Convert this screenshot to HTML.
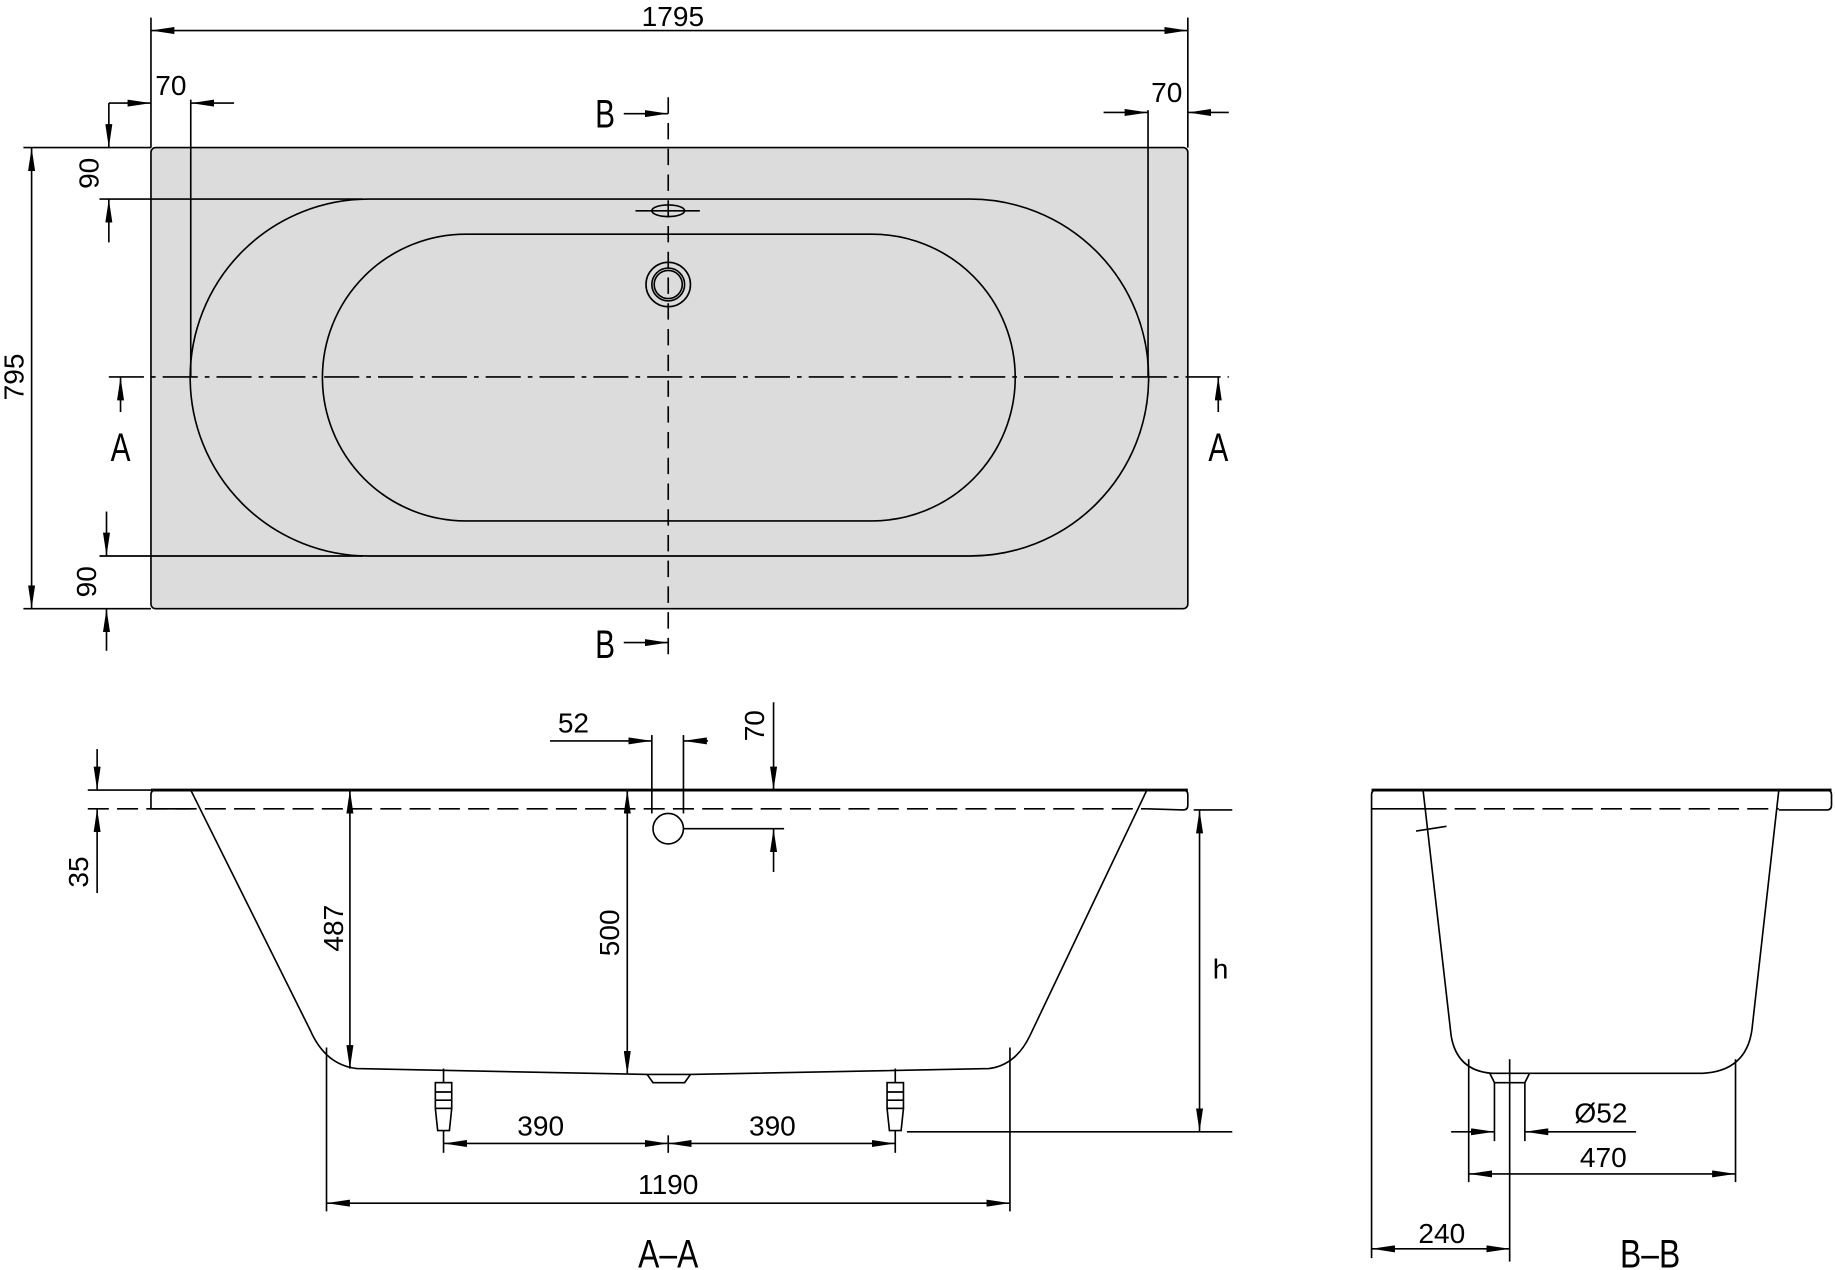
<!DOCTYPE html>
<html><head><style>html,body{margin:0;padding:0;background:#fff}svg{display:block}
text{font-family:"Liberation Sans",sans-serif;font-size:24px;fill:#000;text-anchor:middle}
.big{font-size:34px}</style></head>
<body>
<svg width="1835" height="1270" viewBox="0 0 1568 1085" xmlns="http://www.w3.org/2000/svg">
<defs>
<marker id="a" viewBox="0 0 20 6" refX="20" refY="3" markerWidth="20" markerHeight="6" markerUnits="userSpaceOnUse" orient="auto-start-reverse"><path d="M0,0L20,3L0,6z" fill="#000"/></marker>
</defs>
<g fill="none" stroke="#000" stroke-width="1.4">
<rect x="129" y="126" width="886" height="394" rx="4" fill="#dcdcdc"/>
<path d="M315,170H829A152.5,152.5 0 0 1 829,475H315A152.5,152.5 0 0 1 315,170Z"/>
<path d="M398,200H745A122.5,122.5 0 0 1 745,445H398A122.5,122.5 0 0 1 398,200Z"/>
<line x1="163" y1="85" x2="163" y2="322"/>
<line x1="981" y1="94" x2="981" y2="322"/>
<line x1="93" y1="322" x2="1050" y2="322" stroke-dasharray="30,6,4,6"/>
<line x1="571" y1="83" x2="571" y2="560" stroke-dasharray="14,8"/>
<ellipse cx="571" cy="180" rx="14" ry="5"/><line x1="543" y1="180" x2="598" y2="180"/>
<circle cx="571" cy="243" r="19"/><circle cx="571" cy="243" r="14"/><circle cx="571" cy="243" r="12"/>
<line x1="129" y1="15" x2="129" y2="126"/><line x1="1015" y1="15" x2="1015" y2="126"/>
<line x1="129" y1="26" x2="1015" y2="26" marker-start="url(#a)" marker-end="url(#a)"/>
<line x1="93" y1="88" x2="129" y2="88" marker-end="url(#a)"/>
<line x1="200" y1="88" x2="163" y2="88" marker-end="url(#a)"/>
<line x1="93" y1="88" x2="93" y2="126" marker-end="url(#a)"/>
<line x1="93" y1="207" x2="93" y2="170" marker-end="url(#a)"/>
<line x1="20" y1="126" x2="129" y2="126"/><line x1="85" y1="170" x2="310" y2="170"/>
<line x1="27" y1="126" x2="27" y2="520" marker-start="url(#a)" marker-end="url(#a)"/>
<line x1="20" y1="520" x2="129" y2="520"/><line x1="85" y1="475" x2="310" y2="475"/>
<line x1="91" y1="437" x2="91" y2="475" marker-end="url(#a)"/>
<line x1="91" y1="556" x2="91" y2="520" marker-end="url(#a)"/>
<line x1="943" y1="96" x2="981" y2="96" marker-end="url(#a)"/>
<line x1="1050" y1="96" x2="1015" y2="96" marker-end="url(#a)"/>
<line x1="103" y1="352" x2="103" y2="322" marker-end="url(#a)"/>
<line x1="1041" y1="352" x2="1041" y2="322" marker-end="url(#a)"/>
<line x1="533" y1="97" x2="571" y2="97" marker-end="url(#a)"/>
<line x1="533" y1="549" x2="571" y2="549" marker-end="url(#a)"/>

<line x1="129" y1="675" x2="1015" y2="675" stroke-width="2.5"/>
<path d="M163,675H133Q129,675 129,679V691H163"/>
<path d="M980,675H1011Q1015,675 1015,679V688Q1015,692 1011,692L980,691"/>
<line x1="75" y1="691" x2="980" y2="691" stroke-dasharray="18,7"/>
<path d="M163,675L265,880Q278,910 305,913L553,918H590L845,913Q868,910 880,885L980,675"/>
<path d="M553,918L558,925H585L590,918"/>
<line x1="557" y1="628" x2="557" y2="695"/><line x1="584" y1="628" x2="584" y2="695"/>
<circle cx="571" cy="708" r="13" fill="#fff"/>
<line x1="470" y1="633" x2="557" y2="633" marker-end="url(#a)"/>
<line x1="605" y1="633" x2="584" y2="633" marker-end="url(#a)"/>
<line x1="661" y1="600" x2="661" y2="675" marker-end="url(#a)"/>
<line x1="661" y1="745" x2="661" y2="708" marker-end="url(#a)"/>
<line x1="584" y1="708" x2="670" y2="708"/>
<line x1="299" y1="675" x2="299" y2="913" marker-start="url(#a)" marker-end="url(#a)"/>
<line x1="536" y1="675" x2="536" y2="918" marker-start="url(#a)" marker-end="url(#a)"/>
<line x1="83" y1="640" x2="83" y2="675" marker-end="url(#a)"/>
<line x1="83" y1="763" x2="83" y2="691" marker-end="url(#a)"/>
<line x1="75" y1="675" x2="129" y2="675"/>
<line x1="1025" y1="692" x2="1025" y2="967" marker-start="url(#a)" marker-end="url(#a)"/>
<line x1="1020" y1="692" x2="1053" y2="692"/><line x1="775" y1="967" x2="1053" y2="967"/>
<g>
<line x1="379" y1="913" x2="379" y2="925"/><rect x="372" y="925" width="14" height="22"/><path d="M372,947L374,966H384L386,947"/>
<line x1="765" y1="913" x2="765" y2="925"/><rect x="758" y="925" width="14" height="22"/><path d="M758,947L760,966H770L772,947"/>
<line x1="372" y1="933" x2="386" y2="933"/><line x1="372" y1="940" x2="386" y2="940"/>
<line x1="758" y1="933" x2="772" y2="933"/><line x1="758" y1="940" x2="772" y2="940"/>
</g>
<line x1="379" y1="966" x2="379" y2="985"/><line x1="765" y1="966" x2="765" y2="985"/>
<line x1="379" y1="977" x2="571" y2="977" marker-start="url(#a)" marker-end="url(#a)"/>
<line x1="571" y1="977" x2="765" y2="977" marker-start="url(#a)" marker-end="url(#a)"/>
<line x1="571" y1="970" x2="571" y2="985"/>
<line x1="279" y1="895" x2="279" y2="1035"/><line x1="863" y1="895" x2="863" y2="1035"/>
<line x1="279" y1="1028" x2="863" y2="1028" marker-start="url(#a)" marker-end="url(#a)"/>

<line x1="1172" y1="675" x2="1565" y2="675" stroke-width="2.5"/>
<path d="M1218,675H1176Q1172,675 1172,679V1075"/>
<line x1="1172" y1="691" x2="1218" y2="691"/>
<path d="M1520,675H1561Q1565,675 1565,679V688Q1565,692 1561,692H1520"/>
<line x1="1218" y1="691" x2="1520" y2="691" stroke-dasharray="18,7"/>
<path d="M1216,675L1240,885Q1245,915 1275,917H1455Q1492,915 1497,880L1520,675"/>
<line x1="1210" y1="710" x2="1236" y2="706"/>
<path d="M1273,917L1277,925H1303L1307,917"/>
<line x1="1277" y1="925" x2="1277" y2="975"/><line x1="1303" y1="925" x2="1303" y2="975"/>
<line x1="1290" y1="905" x2="1290" y2="1078"/>
<line x1="1240" y1="967" x2="1277" y2="967" marker-end="url(#a)"/>
<line x1="1398" y1="967" x2="1303" y2="967" marker-end="url(#a)"/>
<line x1="1255" y1="905" x2="1255" y2="1010"/><line x1="1483" y1="905" x2="1483" y2="1010"/>
<line x1="1255" y1="1003" x2="1483" y2="1003" marker-start="url(#a)" marker-end="url(#a)"/>
<line x1="1172" y1="1067" x2="1290" y2="1067" marker-start="url(#a)" marker-end="url(#a)"/>
</g>
<g>
<text x="575" y="22">1795</text>
<text x="146" y="81">70</text>
<text x="997" y="87">70</text>
<text transform="translate(84,148) rotate(-90)">90</text>
<text transform="translate(20,322) rotate(-90)">795</text>
<text transform="translate(82,497) rotate(-90)">90</text>
<text class="big" transform="translate(103,394) scale(0.75,1)">A</text>
<text class="big" transform="translate(1041,394) scale(0.75,1)">A</text>
<text class="big" transform="translate(517,109) scale(0.75,1)">B</text>
<text class="big" transform="translate(517,562) scale(0.75,1)">B</text>
<text x="490" y="626">52</text>
<text transform="translate(653,620) rotate(-90)">70</text>
<text transform="translate(293,793) rotate(-90)">487</text>
<text transform="translate(529,797) rotate(-90)">500</text>
<text transform="translate(75,745) rotate(-90)">35</text>
<text x="1043" y="836" font-size="20">h</text>
<text x="462" y="970">390</text>
<text x="660" y="970">390</text>
<text x="571" y="1020">1190</text>
<text class="big" transform="translate(571,1083) scale(0.8,1)">A–A</text>
<text x="1368" y="959">Ø52</text>
<text x="1370" y="997">470</text>
<text x="1232" y="1062">240</text>
<text class="big" transform="translate(1410,1083) scale(0.8,1)">B–B</text>
</g>
</svg>
</body></html>
